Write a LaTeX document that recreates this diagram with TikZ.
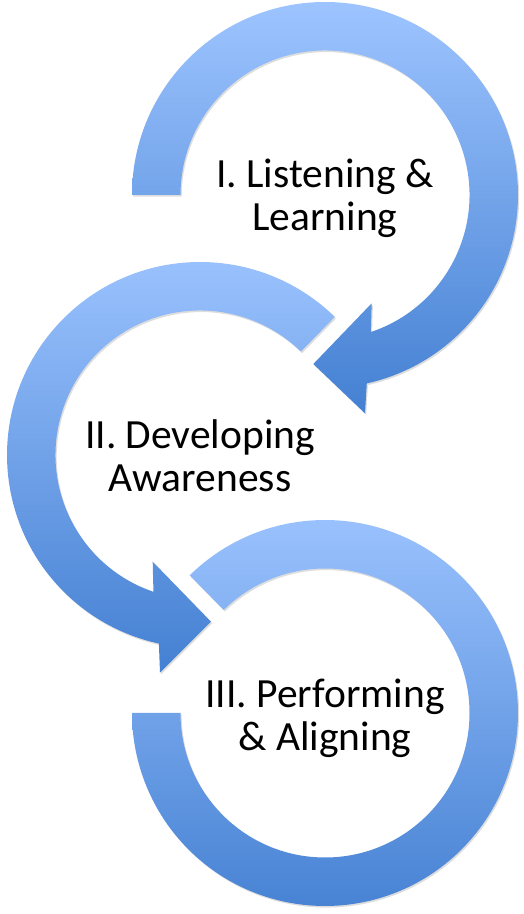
\documentclass[tikz,border=0pt]{standalone}
\usepackage{fontspec}
\setmainfont{Carlito}
\usetikzlibrary{shadows}
\definecolor{arrowtop}{RGB}{157,196,255}
\definecolor{arrowbot}{RGB}{68,128,210}
\tikzset{
  circarrow/.style={top color=arrowtop, bottom color=arrowbot, draw=none,
    drop shadow={shadow xshift=1.2pt, shadow yshift=-1.6pt, opacity=0.22, fill=black!60}},
  steplabel/.style={align=center, font=\fontsize{41.5}{43}\selectfont, inner sep=0pt, anchor=base}
}
\begin{document}
\begin{tikzpicture}[x=1pt,y=1pt]
\useasboundingbox (0,0) rectangle (524,914);
\coordinate (c1) at (325,719);
\coordinate (c2) at (200,459);
\coordinate (c3) at (325,201);
% Arrow I
\path[circarrow] ([shift={(180:193)}]c1) arc[start angle=180, end angle=-77.5, radius=193]
  -- (365,500.7) -- (313.3,550) -- (371.7,610.7)
  -- ([shift={(-71.5:144.5)}]c1) arc[start angle=-71.5, end angle=180, radius=144.5] -- cycle;
% Arrow II
\path[circarrow] ([shift={(45.7:193)}]c2) arc[start angle=45.7, end angle=257.7, radius=193]
  -- (160,241.3) -- (211,292.3) -- (152.7,352.3)
  -- ([shift={(251.2:144.5)}]c2) arc[start angle=251.2, end angle=45.7, radius=144.5] -- cycle;
% Arrow III
\path[circarrow] ([shift={(134.5:193)}]c3) arc[start angle=134.5, end angle=-180, radius=193]
  -- ([shift={(-180:144.5)}]c3) arc[start angle=-180, end angle=134.5, radius=144.5] -- cycle;
\node[steplabel] (t1) at (325,683) {I. Listening \&\\Learning};
\node[steplabel] (t2) at (200,422) {II. Developing\\Awareness};
\node[steplabel] (t3) at (325,163) {III. Performing\\\& Aligning};
\end{tikzpicture}
\end{document}
